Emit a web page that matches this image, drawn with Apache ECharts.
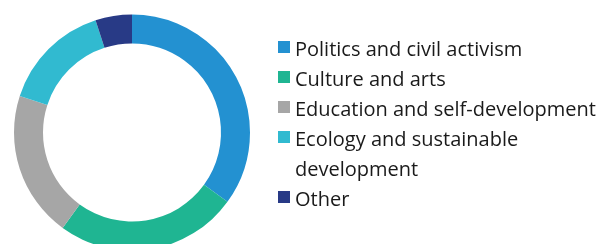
<!DOCTYPE html>
<html>
<head>
<meta charset="utf-8">
<script src="https://cdn.jsdelivr.net/npm/echarts@6/dist/echarts.min.js"></script>
<style>html,body{margin:0;padding:0;background:#fff}#c{width:600px;height:244px}</style>
</head>
<body>
<div id="c"></div>
<script>
const categories = ['Politics and civil activism', 'Culture and arts', 'Education and self-development', 'Ecology and sustainable', 'Other'];
const values = [35, 25, 20, 15, 5];
const colors = ['#2391D1', '#1FB592', '#A6A6A6', '#31BAD0', '#283A86'];
const continuationText = 'development';

const FONT = 'Open Sans';
const FS = 20;
const TXT = '#1a1a1a';
const textStyle = {
  fontFamily: FONT, fontSize: FS, color: TXT, lineHeight: 30,
  rich: { t: { fontFamily: FONT, fontSize: FS, color: TXT, lineHeight: 30, height: 24, verticalAlign: 'bottom' } }
};
const fmt = name => '{t|' + name + '}';

const chart = echarts.init(document.getElementById('c'), null, { renderer: 'canvas' });
chart.setOption({
  animation: false,
  legend: [
    {
      orient: 'vertical', left: 278, top: 32, padding: 0, itemGap: 0,
      itemWidth: 12, itemHeight: 12, icon: 'rect', formatter: fmt,
      data: categories.slice(0, 4), textStyle: textStyle
    },
    {
      orient: 'vertical', left: 278, top: 182, padding: 0, itemGap: 0,
      itemWidth: 12, itemHeight: 12, icon: 'rect', formatter: fmt,
      data: categories.slice(4), textStyle: textStyle
    }
  ],
  graphic: [{
    type: 'text', left: 295, top: 155,
    style: { text: continuationText, fontFamily: FONT, fontSize: FS, fill: TXT, lineHeight: 30 }
  }],
  series: [{
    type: 'pie',
    center: [132, 132.5],
    radius: [89, 118],
    startAngle: 90,
    label: { show: false },
    labelLine: { show: false },
    emphasis: { disabled: true },
    data: categories.map((n, i) => ({ name: n, value: values[i], itemStyle: { color: colors[i] } }))
  }]
});
</script>
</body>
</html>
